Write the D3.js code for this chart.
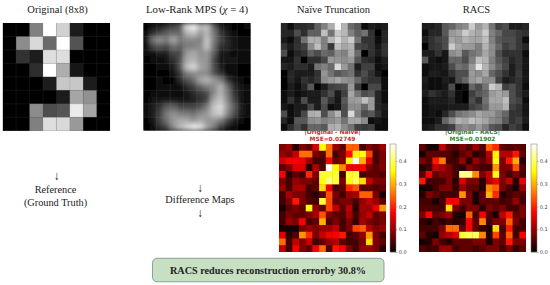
<!DOCTYPE html>
<html>
<head>
<meta charset="utf-8">
<script src="https://d3js.org/d3.v7.min.js"></script>
<style>
  html, body { margin: 0; padding: 0; background: #fff; }
  svg { display: block; }
  .serif { font-family: "Liberation Serif", serif; fill: #222; }
  .sans { font-family: "DejaVu Sans", sans-serif; }
</style>
</head>
<body>
<div id="chart"></div>
<script>
const original = [
  [0, 0, .5, 1, .82, .1, 0, 0],
  [0, .55, .85, .42, 1, .32, 0, 0],
  [0, .2, .1, .87, .87, 0, 0, 0],
  [0, 0, .18, 1, .68, .08, 0, 0],
  [0, 0, 0, .1, .78, .78, .1, 0],
  [0, 0, 0, 0, .1, .65, .57, 0],
  [0, 0, .55, .3, .33, .92, .65, 0],
  [0, 0, .5, .87, .85, .6, 0, 0]
];

const lowRank = [
  [.02, .08, .1, .18, .28, .35, .88, .97, .72, .78, .38, .12, .08, .02, .02, .03],
  [.05, .18, .28, .38, .42, .4, .72, .78, .6, .72, .48, .22, .12, .04, .02, .02],
  [.08, .48, .58, .5, .68, .48, .55, .55, .5, .8, .5, .28, .16, .08, .03, .03],
  [.06, .28, .35, .28, .45, .38, .5, .5, .55, .78, .45, .18, .16, .08, .03, .03],
  [.03, .06, .12, .12, .28, .28, .62, .68, .55, .6, .38, .08, .08, .04, .03, .03],
  [.02, .03, .06, .08, .18, .32, .68, .72, .6, .6, .28, .08, .08, .08, .04, .03],
  [.01, .01, .03, .03, .12, .32, .78, .88, .65, .6, .32, .12, .04, .03, .02, .02],
  [.01, .02, .02, .02, .08, .22, .5, .55, .55, .55, .32, .18, .04, .03, .02, .02],
  [.01, .02, .03, .02, .01, .16, .32, .42, .65, .72, .62, .5, .22, .08, .03, .02],
  [.01, .02, .03, .03, .03, .05, .16, .26, .38, .5, .55, .72, .45, .18, .08, .03],
  [.02, .03, .03, .03, .03, .03, .07, .16, .22, .28, .55, .72, .5, .22, .08, .03],
  [.02, .08, .08, .08, .08, .08, .08, .12, .18, .28, .68, .78, .55, .28, .08, .03],
  [.03, .12, .22, .38, .4, .28, .28, .28, .33, .5, .78, .88, .6, .38, .12, .03],
  [.03, .12, .28, .5, .58, .5, .5, .45, .55, .62, .78, .82, .55, .32, .12, .03],
  [.02, .08, .28, .45, .62, .68, .68, .6, .68, .6, .6, .48, .28, .12, .06, .02],
  [.01, .06, .18, .28, .55, .72, .85, .95, .88, .65, .48, .22, .08, .03, .02, .01]
];

const naive = [
  [.15, .06, .17, .17, .2, .38, .5, .68, .97, .7, .42, .35, .06, .12, .08, .1],
  [.15, .15, .3, .18, .38, .38, .75, .45, .78, .72, .5, .38, .45, .2, .02, .15],
  [.12, .03, .18, .45, .68, .68, .5, .72, .85, .7, .8, .45, .2, .2, .03, .15],
  [.2, .1, .2, .25, .55, .75, .5, .22, .75, .65, .7, .28, .25, .2, .08, .2],
  [.3, .05, .15, .2, .38, .3, .42, .38, .55, .5, .68, .42, .02, .2, .1, .2],
  [.08, .08, .2, .02, .18, .18, .28, .6, .58, .55, .6, .32, .18, .15, .05, .1],
  [.15, .12, .18, .18, .12, .45, .5, .42, .85, .6, .45, .1, .25, .25, .05, .08],
  [.02, .15, .1, .1, .1, .2, .58, .45, .35, .4, .45, .2, .3, .2, .08, .02],
  [.02, .15, .08, .2, .15, .22, .55, .6, .65, .58, .55, .4, .25, .2, .2, .03],
  [.02, .1, .05, .15, .35, .02, .1, .25, .28, .3, .6, .22, .02, .28, .28, .05],
  [.05, .12, .05, .08, .1, .12, .2, .3, .12, .25, .65, .45, .3, .35, .15, .05],
  [.05, .2, .08, .3, .1, .1, .35, .2, .08, .35, .6, .62, .75, .6, .15, .05],
  [.08, .03, .1, .12, .28, .1, .3, .05, .08, .3, .55, .55, .4, .6, .15, .1],
  [.3, .05, .12, .28, .68, .7, .3, .55, .7, .3, .85, .5, .3, .35, .2, .08],
  [.15, .03, .35, .35, .55, .58, .5, .55, .6, .45, .65, .65, .55, .05, .08, .03],
  [.05, .18, .3, .2, .4, .4, .35, .68, .7, .55, .45, .25, .22, .25, .05, .05]
];

const racs = [
  [.12, .12, .15, .35, .4, .5, .55, .8, .6, .7, .45, .25, .3, .12, .12, .15],
  [.05, .15, .15, .35, .6, .65, .8, .7, .65, .8, .5, .4, .28, .28, .22, .2],
  [.1, .2, .25, .3, .65, .6, .7, .65, .65, .75, .5, .35, .3, .3, .22, .05],
  [.02, .2, .22, .3, .8, .65, .6, .6, .5, .7, .55, .4, .25, .3, .22, .15],
  [.12, .12, .2, .08, .55, .6, .35, .45, .5, .65, .55, .3, .18, .2, .2, .05],
  [.35, .08, .05, .08, .4, .4, .3, .5, .75, .7, .5, .35, .25, .15, .2, .08],
  [.05, .08, .08, .1, .3, .45, .4, .6, .9, .7, .55, .4, .28, .1, .2, .08],
  [.05, .1, .1, .08, .2, .3, .3, .6, .55, .65, .4, .3, .2, .12, .22, .08],
  [.1, .05, .05, .12, .08, .3, .4, .6, .65, .55, .55, .25, .1, .15, .2, .08],
  [.08, .05, .05, .08, .3, .02, .05, .4, .3, .45, .8, .7, .25, .3, .2, .05],
  [.1, .2, .15, .1, .2, .05, .02, .25, .35, .4, .6, .65, .6, .3, .2, .1],
  [.05, .1, .1, .1, .15, .05, .02, .3, .2, .45, .65, .65, .75, .3, .25, .05],
  [.05, .08, .08, .08, .12, .1, .1, .25, .3, .4, .6, .6, .7, .25, .2, .08],
  [.03, .08, .05, .15, .3, .45, .5, .55, .65, .6, .6, .5, .4, .2, .2, .08],
  [.05, .05, .1, .4, .55, .7, .65, .75, .7, .65, .55, .5, .35, .2, .25, .1],
  [.08, .12, .2, .2, .25, .5, .55, .5, .6, .5, .35, .3, .15, .25, .2, .05]
];

const diffNaive = [
  [.08, .1, .02, .08, .06, .14, .36, .25, .1, .06, .24, .24, .04, .08, .06, .1],
  [.1, .08, .13, .25, .25, .08, .06, .25, .04, .08, .18, .35, .36, .22, .04, .08],
  [.14, .17, .17, .16, .1, .04, .04, .17, .06, .08, .35, .47, .3, .15, .04, .08],
  [.06, .08, .15, .15, .02, .12, .05, .47, .35, .27, .16, .16, .17, .08, .06, .08],
  [.17, .02, .06, .04, .2, .08, .38, .38, .38, .04, .38, .38, .04, .06, .06, .05],
  [.08, .04, .1, .08, .08, .06, .36, .42, .38, .08, .36, .4, .33, .13, .08, .08],
  [.1, .04, .11, .11, .04, .06, .33, .16, .04, .06, .2, .23, .06, .06, .05, .06],
  [.04, .11, .08, .08, .04, .02, .06, .23, .08, .04, .1, .11, .24, .24, .08, .01],
  [.04, .08, .19, .08, .05, .04, .38, .22, .06, .08, .08, .04, .1, .13, .1, .06],
  [.01, .06, .08, .06, .35, .1, .06, .22, .13, .06, .12, .02, .11, .1, .16, .28],
  [.04, .08, .06, .06, .08, .11, .23, .08, .06, .05, .11, .04, .1, .13, .06, .08],
  [.04, .1, .08, .17, .04, .06, .3, .05, .08, .04, .08, .03, .11, .08, .06, .08],
  [.01, .01, .01, .08, .1, .08, .1, .1, .13, .04, .08, .22, .24, .12, .08, .1],
  [.15, .02, .05, .28, .2, .08, .13, .16, .17, .19, .04, .06, .1, .28, .08, .04],
  [.25, .04, .13, .08, .13, .04, .06, .1, .12, .06, .04, .04, .08, .33, .08, .06],
  [.13, .04, .17, .08, .06, .17, .25, .05, .19, .17, .08, .04, .1, .1, .08, .02]
];

const diffRacs = [
  [.06, .01, .01, .13, .06, .05, .08, .05, .1, .05, .24, .2, .06, .05, .06, .05],
  [.01, .06, .06, .05, .05, .02, .06, .08, .02, .04, .12, .35, .12, .12, .19, .06],
  [.08, .05, .19, .26, .04, .04, .1, .02, .1, .06, .1, .36, .08, .19, .3, .02],
  [.02, .04, .13, .11, .08, .04, .02, .08, .06, .04, .04, .28, .08, .08, .23, .05],
  [.06, .17, .06, .08, .08, .04, .42, .42, .27, .08, .13, .36, .08, .04, .08, .04],
  [.19, .04, .04, .04, .08, .02, .15, .08, .08, .02, .12, .16, .08, .13, .02, .16],
  [.01, .01, .04, .08, .08, .03, .1, .06, .06, .02, .27, .24, .08, .04, .01, .1],
  [.02, .08, .06, .04, .04, .04, .28, .08, .01, .06, .3, .2, .02, .04, .06, .05],
  [.04, .04, .01, .04, .17, .17, .08, .08, .01, .06, .06, .06, .04, .05, .1, .04],
  [.05, .05, .04, .04, .33, .08, .04, .08, .08, .02, .08, .06, .08, .04, .04, .08],
  [.08, .17, .06, .08, .1, .02, .01, .24, .04, .17, .05, .01, .13, .19, .06, .08],
  [.03, .01, .04, .02, .04, .02, .03, .17, .06, .27, .04, .08, .08, .24, .08, .04],
  [.04, .04, .04, .08, .25, .25, .06, .17, .06, .03, .01, .33, .04, .19, .04, .04],
  [.06, .02, .01, .1, .12, .15, .38, .4, .4, .27, .02, .22, .06, .24, .04, .17],
  [.01, .02, .08, .04, .02, .06, .06, .06, .08, .08, .01, .08, .06, .19, .08, .08],
  [.05, .04, .04, .1, .1, .04, .06, .06, .04, .06, .08, .08, .04, .08, .03, .06]
];

const colorbarTicks = [0, 0.1, 0.2, 0.3, 0.4];
const errorMax = 0.475;

const width = 550;
const height = 285;

const svg = d3.select("#chart").append("svg")
  .attr("width", width)
  .attr("height", height)
  .attr("viewBox", `0 0 ${width} ${height}`);

const defs = svg.append("defs");
function addBlur(id, amount) {
  defs.append("filter").attr("id", id)
    .attr("x", "-10%").attr("y", "-10%").attr("width", "120%").attr("height", "120%")
    .append("feGaussianBlur").attr("stdDeviation", amount);
}
addBlur("soft", 0.6);
addBlur("smooth", 2.4);

const gray = d3.scaleLinear().domain([0, 1]).range(["#000", "#fff"]);
// matplotlib "hot"
const hot = d3.scaleLinear()
  .domain([0, 0.365, 0.746, 1].map((d) => d * errorMax))
  .range(["#0b0000", "#ff0000", "#ffff00", "#ffffff"]);

function drawCells(name, rows, box, color, filter, gridColor) {
  const n = rows.length;
  const idx = d3.range(n);
  const x = d3.scaleBand().domain(idx).range([box.x, box.x + box.w]);
  const y = d3.scaleBand().domain(idx).range([box.y, box.y + box.h]);

  defs.append("clipPath").attr("id", "clip-" + name)
    .append("rect").attr("x", box.x).attr("y", box.y).attr("width", box.w).attr("height", box.h);

  const wrap = svg.append("g").attr("clip-path", `url(#clip-${name})`);
  wrap.append("rect").attr("x", box.x).attr("y", box.y).attr("width", box.w).attr("height", box.h)
    .attr("fill", color(rows[0][0]));

  wrap.append("g").attr("filter", `url(#${filter})`)
    .selectAll("g").data(rows).join("g")
    .attr("transform", (d, i) => `translate(0,${y(i)})`)
    .selectAll("rect").data((d) => d).join("rect")
    .attr("x", (d, i) => x(i))
    .attr("width", x.bandwidth() + 0.3)
    .attr("height", y.bandwidth() + 0.3)
    .attr("fill", (d) => color(d));

  if (gridColor) {
    const grid = d3.range(1, 8).map((d) => d / 8);
    const g = svg.append("g").attr("stroke", gridColor).attr("stroke-width", 0.5);
    g.selectAll(".v").data(grid).join("line").attr("class", "v")
      .attr("x1", (d) => box.x + d * box.w).attr("x2", (d) => box.x + d * box.w)
      .attr("y1", box.y).attr("y2", box.y + box.h);
    g.selectAll(".h").data(grid).join("line").attr("class", "h")
      .attr("y1", (d) => box.y + d * box.h).attr("y2", (d) => box.y + d * box.h)
      .attr("x1", box.x).attr("x2", box.x + box.w);
  }
}

function drawColorbar(box) {
  const y = d3.scaleLinear().domain([0, errorMax]).range([box.y + box.h, box.y]);
  const steps = d3.range(0, errorMax, errorMax / 108);
  svg.append("g").selectAll("rect").data(steps).join("rect")
    .attr("x", box.x)
    .attr("width", box.w)
    .attr("y", (d) => y(d) - box.h / 108 - 0.2)
    .attr("height", box.h / 108 + 0.4)
    .attr("fill", (d) => hot(d));
  svg.append("rect").attr("x", box.x).attr("y", box.y).attr("width", box.w).attr("height", box.h)
    .attr("fill", "none").attr("stroke", "#777").attr("stroke-width", 0.5);

  const axis = d3.axisRight(y).tickValues(colorbarTicks).tickFormat(d3.format(".1f")).tickSize(1.5).tickPadding(1.2);
  const g = svg.append("g").attr("transform", `translate(${box.x + box.w},0)`).call(axis);
  g.select(".domain").remove();
  g.selectAll("line").attr("stroke", "#555").attr("stroke-width", 0.4);
  g.selectAll("text").attr("class", "sans").attr("font-size", 5).attr("fill", "#444");
}

function label(txt, x, y, size, cls) {
  return svg.append("text").attr("class", cls || "serif")
    .attr("x", x).attr("y", y).attr("text-anchor", "middle")
    .attr("font-size", size).text(txt);
}

// column headers
label("Original (8x8)", 57.5, 12.5, 10.5);
const lr = label("Low-Rank MPS (", 197, 12.5, 10.8);
lr.append("tspan").attr("font-style", "italic").text("χ");
lr.append("tspan").text(" = 4)");
label("Naïve Truncation", 333.5, 12.5, 10.5);
label("RACS", 476.5, 12.5, 10.5);

// difference titles sit behind the images above them
label("|Original - Naïve|", 332.5, 134.3, 5.9, "sans").attr("font-weight", "bold").attr("fill", "#c62b2b");
label("MSE=0.02749", 332.5, 141, 5.9, "sans").attr("font-weight", "bold").attr("fill", "#c62b2b");
label("|Original - RACS|", 472.5, 134.3, 5.9, "sans").attr("font-weight", "bold").attr("fill", "#1f8a2a");
label("MSE=0.01902", 472.5, 141, 5.9, "sans").attr("font-weight", "bold").attr("fill", "#1f8a2a");

drawCells("original", original, { x: 2.7, y: 23, w: 107.4, h: 107.7 }, gray, "soft", "rgba(90,90,90,0.35)");
drawCells("lowrank", lowRank, { x: 143.3, y: 23, w: 107.4, h: 107.7 }, gray, "smooth", "rgba(170,170,170,0.28)");
drawCells("naive", naive, { x: 280.7, y: 23, w: 107.4, h: 107.7 }, gray, "soft", "rgba(110,110,110,0.3)");
drawCells("racs", racs, { x: 421.7, y: 23, w: 107.4, h: 107.7 }, gray, "soft", "rgba(110,110,110,0.3)");

drawCells("diffnaive", diffNaive, { x: 279, y: 144, w: 107, h: 108 }, hot, "soft");
drawCells("diffracs", diffRacs, { x: 419, y: 144, w: 107, h: 108 }, hot, "soft");
drawColorbar({ x: 390, y: 144, w: 6, h: 108 });
drawColorbar({ x: 531, y: 144, w: 6, h: 108 });

// left-hand notes
label("↓", 56.5, 180, 12);
label("Reference", 55.5, 193, 10.3);
label("(Ground Truth)", 55.5, 206, 10.3);
label("↓", 200, 191.5, 12);
label("Difference Maps", 200, 203, 10.3);
label("↓", 200, 216.5, 12);

// summary box
svg.append("rect").attr("x", 152.5).attr("y", 258.3).attr("width", 231.5).attr("height", 23.5).attr("rx", 4.5)
  .attr("fill", "#c6e0c1").attr("stroke", "#7d9a93").attr("stroke-width", 0.9);
label("RACS reduces reconstruction errorby 30.8%", 268, 274, 10.2).attr("font-weight", "bold");
</script>
</body>
</html>
